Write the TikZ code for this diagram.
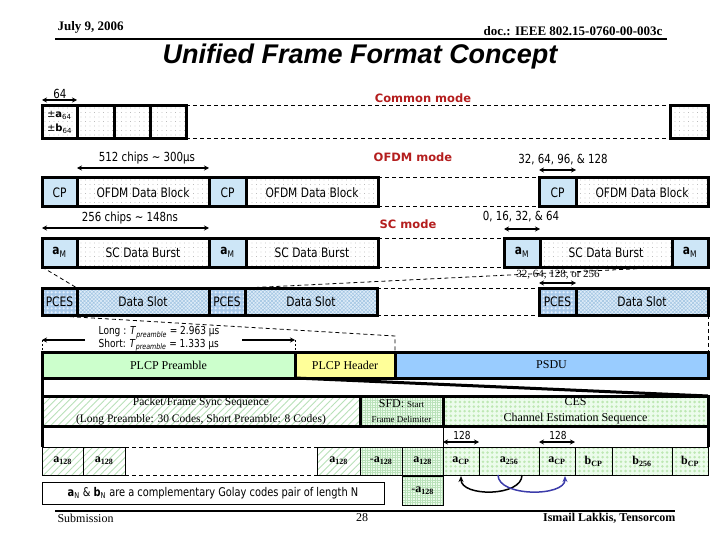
\documentclass[tikz,border=0pt]{standalone}
\usepackage{fontspec}
\setmainfont{Liberation Serif}
\newfontfamily\tah[FakeStretch=0.82]{DejaVu Sans}
\newfontfamily\verd{DejaVu Sans}
\newfontfamily\arialf{Liberation Sans}
\usetikzlibrary{arrows.meta,patterns.meta}
\definecolor{cpblue}{RGB}{205,230,247}
\definecolor{dsbg}{RGB}{222,236,248}
\definecolor{dsln}{RGB}{160,196,226}
\definecolor{pcbg}{RGB}{170,202,234}
\definecolor{pcdot}{RGB}{225,238,252}
\definecolor{plpre}{RGB}{204,255,204}
\definecolor{plhdr}{RGB}{255,255,153}
\definecolor{plpsdu}{RGB}{153,204,255}
\definecolor{grln}{RGB}{185,225,185}
\definecolor{grbg}{RGB}{236,252,236}
\definecolor{cesdot}{RGB}{190,232,180}
\definecolor{mred}{RGB}{180,30,30}
\definecolor{arcblue}{RGB}{60,60,170}
\newcommand\aM{\textbf{a}\textsubscript{M}}
\newcommand\ssb[2]{\textbf{#1}\textsubscript{\textbf{#2}}}
\tikzset{
  bx/.style={draw, line width=3pt, anchor=north west, inner sep=0pt, outer sep=0pt,
    font=\tah\fontsize{13}{14}\selectfont},
  thinbx/.style={bx, line width=0.8pt},
  dotf/.style={preaction={fill=white}, pattern={Dots[radius=0.35pt,distance=4.5pt]}, pattern color=black!40},
  cpf/.style={fill=cpblue},
  dsf/.style={preaction={fill=dsbg}, pattern={Hatch[angle=45,distance=2.6pt,line width=0.5pt]}, pattern color=dsln},
  pcf/.style={preaction={fill=pcbg}, pattern={Dots[radius=1.5pt,distance=4pt]}, pattern color=pcdot},
  hatchg/.style={preaction={fill=white}, pattern={Lines[angle=45,distance=5pt,line width=0.9pt]}, pattern color=grln},
  gridg/.style={preaction={fill=grbg}, pattern={Hatch[angle=0,distance=2.5pt,line width=0.4pt]}, pattern color=grln},
  cesf/.style={preaction={fill=grbg}, pattern={Dots[radius=1.4pt,distance=4.6pt]}, pattern color=cesdot},
  serif/.style={font=\fontsize{12}{16}\selectfont},
  dsh/.style={dash pattern=on 4pt off 3pt, line width=1pt},
  dbl/.style={{Stealth[length=5pt,width=5pt]}-{Stealth[length=5pt,width=5pt]}, line width=1.3pt},
  lbl/.style={font=\tah\fontsize{12.5}{14}\selectfont},
  modelbl/.style={font=\verd\bfseries\fontsize{11.5}{12}\selectfont, text=mred},
  thk/.style={line width=3pt}
}
\begin{document}
\begin{tikzpicture}[x=1pt,y=-1pt]
\useasboundingbox (0,0) rectangle (720,540);
% header
\node[anchor=west, font=\bfseries\fontsize{13}{14}\selectfont] (date) at (54,27) {July 9, 2006};
\node[anchor=east, font=\bfseries\fontsize{13}{14}\selectfont] (doc) at (666,31) {doc.: IEEE 802.15-0760-00-003c};
\coordinate (hl0) at (55,39); \coordinate (hl1) at (667,39);
\draw[line width=2pt] (hl0) -- (hl1);
\node[font=\arialf\bfseries\itshape\fontsize{27}{30}\selectfont] (title) at (360,57) {Unified Frame Format Concept};

% row 1 common mode
\node[bx,dotf,minimum width=35pt,minimum height=33pt,align=left,font=\verd\fontsize{10}{14}\selectfont] (c1) at (42,106) {±\textbf{a}\textsubscript{64}\\±\textbf{b}\textsubscript{64}};
\node[bx,dotf,minimum width=37pt,minimum height=33pt] (c2) at (77,106) {};
\node[bx,dotf,minimum width=36pt,minimum height=33pt] (c3) at (114,106) {};
\node[bx,dotf,minimum width=36pt,minimum height=33pt] (c4) at (150,106) {};
\node[bx,dotf,minimum width=38pt,minimum height=33pt] (c5) at (670,106) {};
\draw[dsh] (c4.north east) -- (c5.north west);
\draw[dsh] (c4.south east) -- (c5.south west);
\coordinate (a64l) at (42,100); \coordinate (a64r) at (77,100);
\draw[dbl] (a64l) -- (a64r);
\node[lbl] (l64) at (60,94) {64};
\node[modelbl] (cmode) at (423,98) {Common mode};

% row 2 OFDM
\node[bx,cpf,minimum width=35pt,minimum height=29pt] (cp1) at (42,178) {CP};
\node[bx,dotf,minimum width=132pt,minimum height=29pt] (od1) at (77,178) {OFDM Data Block};
\node[bx,cpf,minimum width=37pt,minimum height=29pt] (cp2) at (209,178) {CP};
\node[bx,dotf,minimum width=132pt,minimum height=29pt] (od2) at (246,178) {OFDM Data Block};
\node[bx,cpf,minimum width=37pt,minimum height=29pt] (cp3) at (539,178) {CP};
\node[bx,dotf,minimum width=132pt,minimum height=29pt] (od3) at (576,178) {OFDM Data Block};
\draw[dsh] (od2.north east) -- (cp3.north west);
\draw[dsh] (od2.south east) -- (cp3.south west);
\node[lbl] (l512) at (147,158) {512 chips \textasciitilde{} 300µs};
\coordinate (o1l) at (77,168); \coordinate (o1r) at (209,168);
\draw[dbl] (o1l) -- (o1r);
\node[modelbl] (omode) at (413,157) {OFDM mode};
\node[lbl] (l32) at (563,160) {32, 64, 96, \& 128};
\coordinate (o2l) at (539,170); \coordinate (o2r) at (576,170);
\draw[dbl] (o2l) -- (o2r);

% row 3 SC
\node[bx,cpf,minimum width=35pt,minimum height=29pt] (am1) at (42,238) {\aM};
\node[bx,dotf,minimum width=132pt,minimum height=29pt] (sc1) at (77,238) {SC Data Burst};
\node[bx,cpf,minimum width=37pt,minimum height=29pt] (am2) at (209,238) {\aM};
\node[bx,dotf,minimum width=132pt,minimum height=29pt] (sc2) at (246,238) {SC Data Burst};
\node[bx,cpf,minimum width=36pt,minimum height=29pt] (am3) at (504,238) {\aM};
\node[bx,dotf,minimum width=132pt,minimum height=29pt] (sc3) at (540,238) {SC Data Burst};
\node[bx,cpf,minimum width=36pt,minimum height=29pt] (am4) at (672,238) {\aM};
\draw[dsh] (sc2.north east) -- (am3.north west);
\draw[dsh] (sc2.south east) -- (am3.south west);
\node[lbl] (l256) at (130,218) {256 chips \textasciitilde{} 148ns};
\coordinate (s1l) at (42,228); \coordinate (s1r) at (209,228);
\draw[dbl] (s1l) -- (s1r);
\node[modelbl] (smode) at (408,224) {SC mode};
\node[lbl] (l016) at (521,217) {0, 16, 32, \& 64};
\coordinate (s2l) at (504,229); \coordinate (s2r) at (540,229);
\draw[dbl] (s2l) -- (s2r);

% row 4 PCES
\node[bx,pcf,minimum width=35pt,minimum height=27pt] (pc1) at (42,288) {PCES};
\node[bx,dsf,minimum width=132pt,minimum height=27pt] (ds1) at (77,288) {Data Slot};
\node[bx,pcf,minimum width=36pt,minimum height=27pt] (pc2) at (209,288) {PCES};
\node[bx,dsf,minimum width=132pt,minimum height=27pt] (ds2) at (245,288) {Data Slot};
\node[bx,pcf,minimum width=37pt,minimum height=27pt] (pc3) at (539,288) {PCES};
\node[bx,dsf,minimum width=132pt,minimum height=27pt] (ds3) at (576,288) {Data Slot};
\draw[dsh] (ds2.north east) -- (pc3.north west);
\draw[dsh] (ds2.south east) -- (pc3.south west);
\draw[dsh, line width=0.8pt] (am1.south west) -- (ds1.north west);
\draw[dsh, line width=0.8pt] (am4.south west) -- (ds2.north west);
\node[font=\fontsize{11}{12}\selectfont] (l32b) at (558,275) {32, 64, 128, or 256};
\coordinate (p2l) at (539,283); \coordinate (p2r) at (576,283);
\draw[dbl] (p2l) -- (p2r);

% PLCP row
\node[bx,serif,fill=plpre,minimum width=253pt,minimum height=26pt] (pre) at (42,352) {PLCP Preamble};
\node[bx,serif,fill=plhdr,minimum width=100pt,minimum height=26pt] (hdr) at (295,352) {PLCP Header};
\node[bx,serif,fill=plpsdu,minimum width=313pt,minimum height=26pt] (psdu) at (395,352) {PSDU};
\coordinate (k1) at (395,336);
\draw[dsh, line width=0.8pt] (pc1.south west) -- (k1) -- (psdu.north west);
\draw[dsh, line width=0.8pt] (ds3.south east) -- (psdu.north east);
\node[align=left, font=\tah\fontsize{11}{12.5}\selectfont] (ls) at (159,339)
  {Long : \textit{T}\textsubscript{\textit{preamble}} = 2.963 µs\\Short: \textit{T}\textsubscript{\textit{preamble}} = 1.333 µs};
\coordinate (lt0) at (42,340); \coordinate (lt1) at (85,340);
\coordinate (rt0) at (242,340); \coordinate (rt1) at (295,340);
\draw[-{Stealth[length=5pt,width=5pt]}, line width=1.3pt] (lt1) -- (lt0);
\draw[-{Stealth[length=5pt,width=5pt]}, line width=1.3pt] (rt0) -- (rt1);
\draw[dash pattern=on 2pt off 2pt, line width=0.6pt] (lt0) -- (pre.north west);
\draw[dash pattern=on 2pt off 2pt, line width=0.6pt] (rt1) -- (pre.north east);

% packet row
\node[bx,hatchg,align=center,font=\fontsize{11.5}{16.5}\selectfont,minimum width=318pt,minimum height=30pt] (pk) at (42,396)
  {Packet/Frame Sync Sequence\\(Long Preamble: 30 Codes, Short Preamble: 8 Codes)};
\node[bx,gridg,align=center,font=\fontsize{9}{15}\selectfont,minimum width=83pt,minimum height=30pt] (sfd) at (360,396)
  {{\fontsize{12}{12}\selectfont SFD: }Start\\Frame Delimiter};
\node[bx,cesf,align=center,font=\fontsize{12}{16}\selectfont,minimum width=265pt,minimum height=30pt] (ces) at (443,396)
  {CES\\Channel Estimation Sequence};
\draw[thk] (pre.south west) -- (pk.north west);
\draw[thk] (pre.south east) -- (ces.north east);

% bottom row
\node[thinbx,hatchg,serif,minimum width=41pt,minimum height=28pt] (b1) at (42,447) {\ssb{a}{128}};
\node[thinbx,hatchg,serif,minimum width=42pt,minimum height=28pt] (b2) at (83,447) {\ssb{a}{128}};
\node[thinbx,hatchg,serif,minimum width=43pt,minimum height=28pt] (b3) at (317,447) {\ssb{a}{128}};
\node[thinbx,gridg,serif,minimum width=42pt,minimum height=28pt] (b4) at (360,447) {-\ssb{a}{128}};
\node[thinbx,gridg,serif,minimum width=41pt,minimum height=28pt] (b5) at (402,447) {\ssb{a}{128}};
\node[thinbx,cesf,serif,minimum width=36pt,minimum height=28pt] (b6) at (443,447) {\ssb{a}{CP}};
\node[thinbx,cesf,serif,minimum width=60pt,minimum height=28pt] (b7) at (479,447) {\ssb{a}{256}};
\node[thinbx,cesf,serif,minimum width=36pt,minimum height=28pt] (b8) at (539,447) {\ssb{a}{CP}};
\node[thinbx,cesf,serif,minimum width=37pt,minimum height=28pt] (b9) at (575,447) {\ssb{b}{CP}};
\node[thinbx,cesf,serif,minimum width=60pt,minimum height=28pt] (b10) at (612,447) {\ssb{b}{256}};
\node[thinbx,cesf,serif,minimum width=36pt,minimum height=28pt] (b11) at (672,447) {\ssb{b}{CP}};
\node[thinbx,gridg,serif,minimum width=41pt,minimum height=29pt] (b12) at (402,476) {-\ssb{a}{128}};
\draw[dsh, line width=0.8pt] (b2.north east) -- (b3.north west);
\draw[dsh, line width=0.8pt] (b2.south east) -- (b3.south west);
\draw[thk] (pk.south west) -- (b1.north west);
\draw[thk] (ces.south east) -- (b11.north east);
\draw[line width=0.8pt] (ces.south west) -- (b6.north west);

% 128 labels
\node[font=\tah\fontsize{11}{12}\selectfont] (l128a) at (462,435) {128};
\coordinate (q1l) at (443,442); \coordinate (q1r) at (479,442);
\draw[dbl] (q1l) -- (q1r);
\node[font=\tah\fontsize{11}{12}\selectfont] (l128b) at (558,435) {128};
\coordinate (q2l) at (539,442); \coordinate (q2r) at (575,442);
\draw[dbl] (q2l) -- (q2r);

% arcs
\draw[line width=1.5pt, -{Stealth[length=6pt,width=5pt]}] ([xshift=13pt]b7.south) .. controls ([xshift=13pt,yshift=-22pt]b7.south) and ([yshift=-22pt]b6.south) .. ([yshift=-1pt]b6.south);
\draw[line width=1.5pt, arcblue, -{Stealth[length=6pt,width=5pt]}] ([xshift=-11pt]b7.south) .. controls ([xshift=-11pt,yshift=-22pt]b7.south) and ([xshift=8pt,yshift=-22pt]b8.south) .. ([xshift=8pt,yshift=-1pt]b8.south);

% note
\node[thinbx,minimum width=342pt,minimum height=22pt,font=\tah\fontsize{12}{14}\selectfont] (note) at (42,482)
  {\textbf{a}\textsubscript{N} \& \textbf{b}\textsubscript{N} are a complementary Golay codes pair of length N};

% footer
\coordinate (fl0) at (55,511); \coordinate (fl1) at (675,511);
\draw[line width=2pt] (fl0) -- (fl1);
\node[anchor=west, font=\fontsize{12}{13}\selectfont] (subm) at (54,518) {Submission};
\node[font=\fontsize{12}{13}\selectfont] (pg) at (362,518) {28};
\node[anchor=east, font=\bfseries\fontsize{12}{13}\selectfont] (auth) at (679,518) {Ismail Lakkis, Tensorcom};
\end{tikzpicture}
\end{document}
